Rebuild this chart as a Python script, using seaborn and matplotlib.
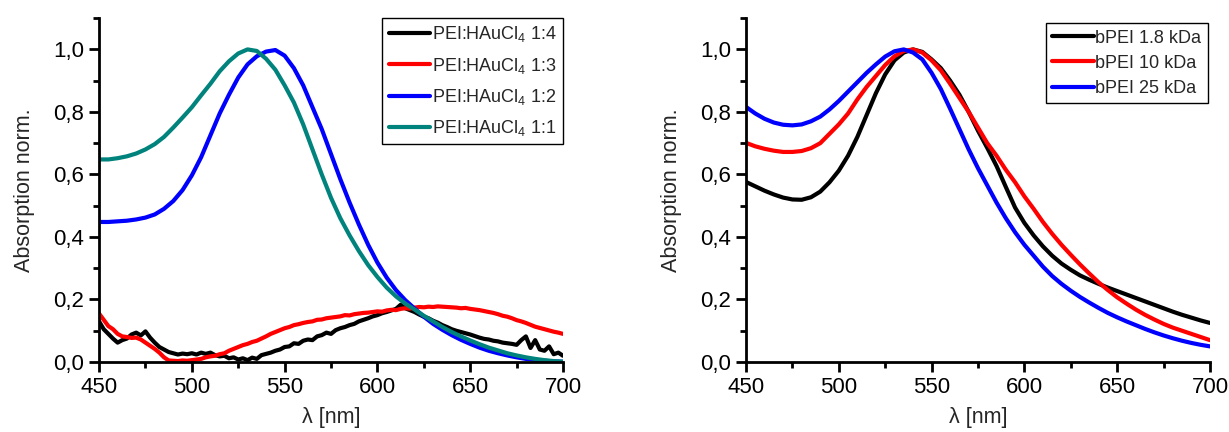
import numpy as np
import pandas as pd
import seaborn as sns
import matplotlib
matplotlib.use("Agg")
import matplotlib.pyplot as plt
from matplotlib.ticker import MultipleLocator, FuncFormatter

# left panel: PEI:HAuCl4 ratios
wl_fine = np.arange(450, 700.1, 2.5)   # 2.5 nm steps for the noisy spectra
wl = np.arange(450, 700.1, 5)          # 5 nm steps for the smooth spectra

ratio_1_4 = [0.130, 0.105, 0.090, 0.075, 0.062, 0.070, 0.075, 0.088, 0.094, 0.085,
             0.098, 0.078, 0.062, 0.048, 0.040, 0.032, 0.028, 0.024, 0.027, 0.025,
             0.028, 0.024, 0.030, 0.026, 0.030, 0.022, 0.018, 0.020, 0.012, 0.015,
             0.008, 0.012, 0.006, 0.014, 0.010, 0.022, 0.026, 0.030, 0.036, 0.040,
             0.048, 0.050, 0.060, 0.058, 0.068, 0.072, 0.070, 0.082, 0.086, 0.094,
             0.090, 0.102, 0.108, 0.112, 0.118, 0.122, 0.130, 0.135, 0.140, 0.146,
             0.150, 0.156, 0.160, 0.165, 0.170, 0.183, 0.172, 0.166, 0.160, 0.152,
             0.145, 0.140, 0.132, 0.126, 0.118, 0.112, 0.105, 0.100, 0.096, 0.092,
             0.088, 0.083, 0.078, 0.074, 0.072, 0.068, 0.066, 0.062, 0.060, 0.058,
             0.055, 0.070, 0.082, 0.045, 0.070, 0.040, 0.036, 0.050, 0.025, 0.030,
             0.020]
ratio_1_3 = [0.155, 0.135, 0.115, 0.105, 0.090, 0.082, 0.080, 0.077, 0.078, 0.072,
             0.062, 0.052, 0.042, 0.030, 0.015, 0.005, 0.004, 0.003, 0.005, 0.004,
             0.006, 0.008, 0.010, 0.015, 0.018, 0.020, 0.025, 0.028, 0.036, 0.042,
             0.048, 0.054, 0.058, 0.064, 0.068, 0.075, 0.082, 0.090, 0.096, 0.102,
             0.108, 0.112, 0.118, 0.121, 0.125, 0.128, 0.130, 0.135, 0.136, 0.140,
             0.142, 0.144, 0.146, 0.150, 0.149, 0.153, 0.155, 0.157, 0.158, 0.160,
             0.162, 0.161, 0.165, 0.167, 0.166, 0.170, 0.172, 0.171, 0.174, 0.176,
             0.175, 0.177, 0.176, 0.178, 0.177, 0.176, 0.175, 0.174, 0.172, 0.173,
             0.170, 0.168, 0.166, 0.163, 0.160, 0.157, 0.153, 0.148, 0.145, 0.140,
             0.134, 0.130, 0.125, 0.119, 0.113, 0.109, 0.105, 0.101, 0.097, 0.094,
             0.090]
ratio_1_2 = [0.448, 0.448, 0.450, 0.452, 0.456, 0.462, 0.472, 0.490, 0.515, 0.550,
             0.597, 0.655, 0.725, 0.795, 0.855, 0.910, 0.952, 0.978, 0.993, 0.998,
             0.980, 0.940, 0.885, 0.815, 0.745, 0.665, 0.585, 0.510, 0.440, 0.375,
             0.318, 0.270, 0.230, 0.198, 0.171, 0.145, 0.122, 0.103, 0.086, 0.071,
             0.058, 0.046, 0.036, 0.028, 0.021, 0.015, 0.010, 0.007, 0.004, 0.002,
             0.001]
ratio_1_1 = [0.648, 0.648, 0.652, 0.658, 0.667, 0.680, 0.697, 0.720, 0.750, 0.782,
             0.815, 0.853, 0.890, 0.930, 0.962, 0.987, 1.000, 0.995, 0.970, 0.935,
             0.885, 0.830, 0.760, 0.680, 0.600, 0.525, 0.460, 0.405, 0.355, 0.310,
             0.272, 0.238, 0.210, 0.187, 0.168, 0.148, 0.130, 0.112, 0.096, 0.082,
             0.069, 0.057, 0.046, 0.037, 0.028, 0.021, 0.015, 0.010, 0.006, 0.003,
             0.001]

# right panel: bPEI molecular weights
bpei_1_8 = [0.576, 0.562, 0.548, 0.536, 0.526, 0.520, 0.519, 0.527, 0.545, 0.575,
            0.612, 0.660, 0.720, 0.790, 0.860, 0.920, 0.965, 0.990, 1.000, 0.992,
            0.968, 0.940, 0.900, 0.855, 0.800, 0.740, 0.685, 0.627, 0.560, 0.494,
            0.445, 0.405, 0.370, 0.340, 0.315, 0.295, 0.277, 0.263, 0.250, 0.238,
            0.227, 0.216, 0.205, 0.194, 0.183, 0.172, 0.161, 0.151, 0.142, 0.133,
            0.125]
bpei_10 = [0.701, 0.690, 0.682, 0.676, 0.672, 0.672, 0.675, 0.684, 0.700, 0.730,
           0.760, 0.795, 0.840, 0.880, 0.915, 0.950, 0.978, 0.995, 1.000, 0.990,
           0.965, 0.933, 0.890, 0.845, 0.800, 0.750, 0.700, 0.660, 0.615, 0.575,
           0.530, 0.490, 0.448, 0.410, 0.375, 0.343, 0.312, 0.283, 0.255, 0.230,
           0.207, 0.187, 0.168, 0.151, 0.136, 0.122, 0.110, 0.100, 0.090, 0.080,
           0.070]
bpei_25 = [0.816, 0.795, 0.778, 0.766, 0.759, 0.757, 0.760, 0.770, 0.785, 0.808,
           0.835, 0.865, 0.895, 0.925, 0.952, 0.977, 0.994, 1.000, 0.990, 0.968,
           0.925, 0.873, 0.810, 0.745, 0.680, 0.620, 0.565, 0.510, 0.460, 0.415,
           0.375, 0.340, 0.305, 0.275, 0.250, 0.228, 0.208, 0.190, 0.173, 0.157,
           0.143, 0.130, 0.118, 0.106, 0.095, 0.085, 0.076, 0.068, 0.061, 0.055,
           0.050]

left_labels = [r"PEI:HAuCl$_4$ 1:4", r"PEI:HAuCl$_4$ 1:3",
               r"PEI:HAuCl$_4$ 1:2", r"PEI:HAuCl$_4$ 1:1"]
right_labels = ["bPEI 1.8 kDa", "bPEI 10 kDa", "bPEI 25 kDa"]

sns.set_style("ticks")
plt.rcParams["font.family"] = ["Liberation Sans", "DejaVu Sans"]
plt.rcParams["mathtext.fontset"] = "custom"
plt.rcParams["mathtext.rm"] = "Liberation Sans"
plt.rcParams["mathtext.it"] = "Liberation Sans"

fig = plt.figure(figsize=(12.29, 4.32), dpi=100)
ax1 = fig.add_axes([0.0806, 0.162, 0.3775, 0.796])
ax2 = fig.add_axes([0.607, 0.162, 0.3775, 0.796])

lw = 3.0
sns.lineplot(x=wl_fine, y=ratio_1_4, ax=ax1, color="black", lw=lw, label=left_labels[0])
sns.lineplot(x=wl_fine, y=ratio_1_3, ax=ax1, color="#ff0000", lw=lw, label=left_labels[1])
sns.lineplot(x=wl, y=ratio_1_2, ax=ax1, color="#0000ff", lw=lw, label=left_labels[2])
sns.lineplot(x=wl, y=ratio_1_1, ax=ax1, color="#00837c", lw=lw, label=left_labels[3])

sns.lineplot(x=wl, y=bpei_1_8, ax=ax2, color="black", lw=lw, label=right_labels[0])
sns.lineplot(x=wl, y=bpei_10, ax=ax2, color="#ff0000", lw=lw, label=right_labels[1])
sns.lineplot(x=wl, y=bpei_25, ax=ax2, color="#0000ff", lw=lw, label=right_labels[2])

comma = FuncFormatter(lambda v, p: f"{v:.1f}".replace(".", ","))

for ax in (ax1, ax2):
    ax.set_xlim(450, 700)
    ax.set_ylim(0, 1.1)
    ax.xaxis.set_major_locator(MultipleLocator(50))
    ax.xaxis.set_minor_locator(MultipleLocator(25))
    ax.yaxis.set_major_locator(MultipleLocator(0.2))
    ax.yaxis.set_minor_locator(MultipleLocator(0.1))
    ax.yaxis.set_major_formatter(comma)
    for s in ("top", "right"):
        ax.spines[s].set_visible(False)
    for s in ("left", "bottom"):
        ax.spines[s].set_linewidth(2)
        ax.spines[s].set_color("black")
    ax.tick_params(which="major", direction="out", length=7, width=2,
                   labelsize=16, colors="black")
    ax.tick_params(which="minor", direction="out", length=4, width=2, colors="black")
    ax.set_xlabel("λ [nm]", fontsize=15.5, labelpad=7)
    ax.set_ylabel("Absorption norm.", fontsize=15.5, labelpad=13)

leg1 = ax1.legend(loc="upper right", bbox_to_anchor=(1.0, 1.0), borderaxespad=0,
                  fontsize=13, handlelength=2.3, handletextpad=0.1,
                  labelspacing=0.62, borderpad=0.35, fancybox=False, framealpha=1)
leg2 = ax2.legend(loc="upper right", bbox_to_anchor=(0.995, 0.985), borderaxespad=0,
                  fontsize=13, handlelength=2.3, handletextpad=0.1,
                  labelspacing=0.45, borderpad=0.35, fancybox=False, framealpha=1)
for leg in (leg1, leg2):
    leg.get_frame().set_edgecolor("black")
    leg.get_frame().set_linewidth(1)

plt.savefig("out.png", dpi=100)
